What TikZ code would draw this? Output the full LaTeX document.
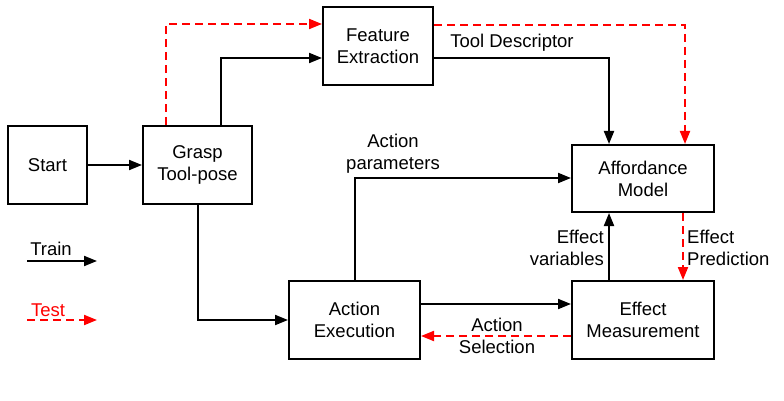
\documentclass[tikz,border=0pt]{standalone}
\usepackage{fontspec}
\setmainfont{Liberation Sans}
\usetikzlibrary{arrows.meta}
\begin{document}
\begin{tikzpicture}[x=1pt,y=-1pt,
  every node/.style={font=\fontsize{18.5}{22}\selectfont},
  box/.style={draw,line width=2pt,rectangle,align=center,inner sep=0pt},
  train/.style={line width=2pt,-{Triangle[length=13pt,width=10pt]}},
  testline/.style={line width=2pt,red,dash pattern=on 8pt off 5pt,-{Triangle[length=13pt,width=10pt]}},
  lbl/.style={inner sep=0pt}]
\useasboundingbox (0,0) rectangle (784,401);
\node[box,minimum width=79pt,minimum height=78pt] (start) at (47.5,165) {Start};
\node[box,minimum width=109pt,minimum height=78pt] (grasp) at (197.5,165) {Grasp\\Tool-pose};
\node[box,minimum width=110pt,minimum height=78pt] (feat) at (378,46) {Feature\\Extraction};
\node[box,minimum width=142pt,minimum height=67pt] (aff) at (643,178.5) {Affordance\\Model};
\node[box,minimum width=131pt,minimum height=78pt] (act) at (354.5,320) {Action\\Execution};
\node[box,minimum width=142pt,minimum height=78pt] (em) at (643,320) {Effect\\Measurement};
% labels
\node[lbl] (tooldesc) at (512,43) {Tool Descriptor};
\node[lbl,align=center] (actpar) at (393,154) {Action\\parameters};
\node[lbl,align=right,anchor=east] (effvar) at (604,247.5) {Effect\\variables};
\node[lbl,align=left,anchor=west] (effpred) at (687,247.5) {Effect\\Prediction};
\node[lbl,align=center] (actsel) at (497,336) {Action\\Selection};
% connectors
\draw[train] (start) -- (grasp);
\draw[train] ([xshift=23.5pt]grasp.north) |- ([yshift=-12pt]feat.west);
\draw[testline] ([xshift=-31.5pt]grasp.north) |- ([yshift=22pt]feat.west);
\draw[train] ([yshift=-12pt]feat.east) -| ([xshift=-34pt]aff.north);
\draw[testline] ([yshift=21pt]feat.east) -| ([xshift=42pt]aff.north);
\draw[train] ([xshift=0.5pt]grasp.south) |- (act.west);
\draw[train] (act.north) |- ([yshift=0.5pt]aff.west);
\draw[train] ([yshift=16pt]act.east) -- ([yshift=16pt]em.west);
\draw[testline] ([yshift=-16pt]em.west) -- ([yshift=-16pt]act.east);
\draw[train] ([xshift=-34pt]em.north) -- ([xshift=-34pt]aff.south);
\draw[testline] ([xshift=40pt]aff.south) -- ([xshift=40pt]em.north);
% legend
\node[lbl] (trainlbl) at (51,249) {Train};
\node[lbl,text=red] (testlbl) at (48,310) {Test};
\coordinate (trA) at (27,261);
\coordinate (trB) at (97,261);
\coordinate (teA) at (27,320);
\coordinate (teB) at (97,320);
\draw[train] (trA) -- (trB);
\draw[testline] (teA) -- (teB);
\end{tikzpicture}
\end{document}
